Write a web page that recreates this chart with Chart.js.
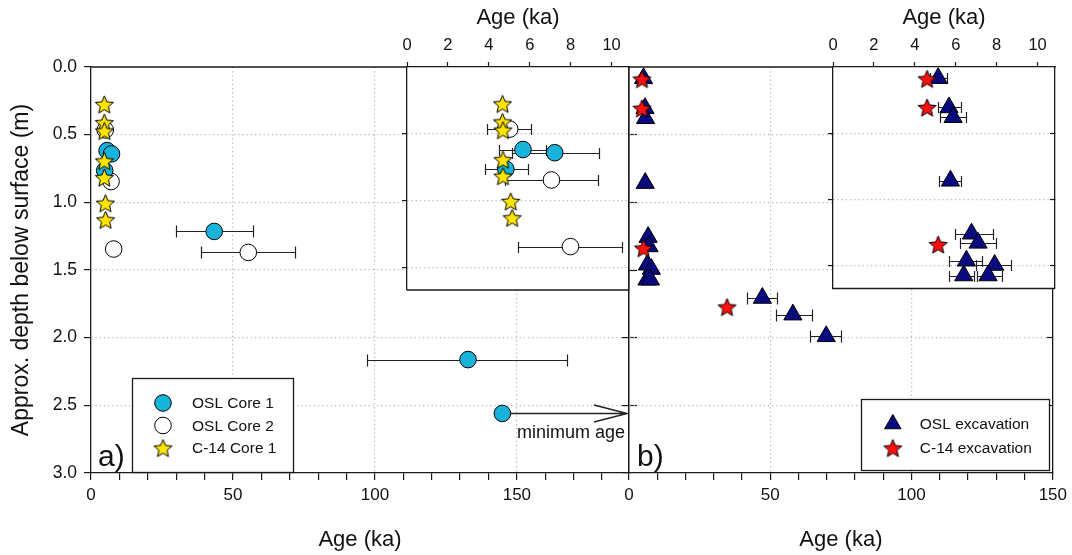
<!DOCTYPE html>
<html><head><meta charset="utf-8">
<script src="https://cdn.jsdelivr.net/npm/chart.js@4.4.1/dist/chart.umd.min.js"></script>
<style>
html,body{margin:0;padding:0;background:#fff;}
body{width:1072px;height:555px;position:relative;overflow:hidden;}
canvas{position:absolute;top:0;}
</style></head>
<body>
<canvas id="mainA" width="640" height="555" style="left:0px"></canvas>
<canvas id="mainB" width="512" height="555" style="left:560px"></canvas>
<canvas id="insetA" width="260" height="300" style="left:380px"></canvas>
<canvas id="insetB" width="266" height="300" style="left:806px"></canvas>
<script>
// ---------------- DATA (age in ka, depth in m) ----------------
// Panel a – cores
const oslCore1Age   = [5.67, 7.22, 4.83, 43.4, 132.8, 144.9];
const oslCore1Depth = [0.618, 0.642, 0.765, 1.215, 2.162, 2.560];
const oslCore1Lo    = [4.50, 5.11, 3.80, 29.8, 97.3, null];
const oslCore1Hi    = [6.81, 9.38, 5.92, 57.1, 167.8, null];
const oslCore1MinimumAge = [false, false, false, false, false, true];

const oslCore2Age   = [5.02, 7.06, 7.99, 55.4];
const oslCore2Depth = [0.465, 0.846, 1.345, 1.370];
const oslCore2Lo    = [3.92, 4.78, 5.43, 38.9];
const oslCore2Hi    = [6.08, 9.35, 10.52, 71.8];

const c14Core1Age   = [4.67, 4.67, 4.69, 4.69, 4.69, 5.07, 5.14];
const c14Core1Depth = [0.276, 0.411, 0.472, 0.694, 0.817, 1.006, 1.129];

// Panel b – excavation
const oslExcAge   = [5.14, 5.67, 5.87, 5.74, 6.77, 7.09, 6.52, 7.90, 6.39, 7.58, 47.2, 58.0, 69.8];
const oslExcDepth = [0.084, 0.305, 0.379, 0.858, 1.257, 1.326, 1.461, 1.493, 1.572, 1.572, 1.707, 1.830, 1.990];
const oslExcLo    = [4.75, 5.14, 5.22, 5.19, 5.95, 6.20, 5.67, 7.01, 5.67, 7.04, 41.9, 51.9, 63.9];
const oslExcHi    = [5.55, 6.24, 6.49, 6.28, 7.82, 7.95, 7.30, 8.72, 6.88, 8.28, 52.5, 64.8, 75.2];

const c14ExcAge   = [4.60, 4.60, 5.14, 34.7];
const c14ExcDepth = [0.089, 0.305, 1.338, 1.773];

// Tick labels
const depthTickLabels = ['0.0', '0.5', '1.0', '1.5', '2.0', '2.5', '3.0'];
const mainAgeTickLabels = [0, 50, 100, 150];
const insetAgeTickLabels = [0, 2, 4, 6, 8, 10];

// ---------------- STYLE ----------------
const FONT = "'Liberation Sans', Arial, Helvetica, sans-serif";
Chart.defaults.font.family = FONT;
Chart.defaults.color = '#111';
const AX = '#1a1a1a';
const GRID = '#b4b4b4';
const CYAN = '#17B3DA';
const YELLOW = '#FFE500';
const NAVY = '#0A0A80';
const RED = '#FF1010';

function makeStar(fill, R) {
  const s = Math.ceil(2 * R + 4);
  const c = document.createElement('canvas');
  c.width = s; c.height = s;
  const g = c.getContext('2d');
  const cx = s / 2, cy = s / 2 + R * 0.1, r = R * 0.45;
  g.beginPath();
  for (let k = 0; k < 10; k++) {
    const a = -Math.PI / 2 + k * Math.PI / 5;
    const rr = k % 2 ? r : R;
    g.lineTo(cx + rr * Math.cos(a), cy + rr * Math.sin(a));
  }
  g.closePath();
  g.fillStyle = fill; g.fill();
  g.lineWidth = 1; g.strokeStyle = '#000'; g.stroke();
  return c;
}
const starYellow = makeStar(YELLOW, 9.5);
const starRed = makeStar(RED, 9.5);

const pts = (xs, ys) => xs.map((x, i) => ({x, y: ys[i]}));

function dsOsl1() { return {label: 'OSL Core 1', data: pts(oslCore1Age, oslCore1Depth), errLo: oslCore1Lo, errHi: oslCore1Hi, minAge: oslCore1MinimumAge,
  pointStyle: 'circle', pointRadius: 8.3, pointBackgroundColor: CYAN, pointBorderColor: '#000', pointBorderWidth: 1, order: 1}; }
function dsOsl2() { return {label: 'OSL Core 2', data: pts(oslCore2Age, oslCore2Depth), errLo: oslCore2Lo, errHi: oslCore2Hi,
  pointStyle: 'circle', pointRadius: 8.3, pointBackgroundColor: '#fff', pointBorderColor: '#000', pointBorderWidth: 1, order: 2}; }
function dsC14Core() { return {label: 'C-14 Core 1', data: pts(c14Core1Age, c14Core1Depth),
  pointStyle: starYellow, pointRadius: 9, order: 0}; }
function dsOslExc() { return {label: 'OSL excavation', data: pts(oslExcAge, oslExcDepth), errLo: oslExcLo, errHi: oslExcHi,
  pointStyle: 'triangle', pointRadius: 10.5, pointBackgroundColor: NAVY, pointBorderColor: '#000', pointBorderWidth: 1, order: 1}; }
function dsC14Exc() { return {label: 'C-14 excavation', data: pts(c14ExcAge, c14ExcDepth),
  pointStyle: starRed, pointRadius: 9, order: 0}; }

// ---------------- PLUGINS ----------------
const bgPlugin = {
  id: 'areaBg',
  beforeDraw(chart, args, opts) {
    if (!opts || !opts.fill) return;
    const {ctx, chartArea: a} = chart;
    ctx.save(); ctx.fillStyle = opts.fill; ctx.fillRect(a.left, a.top, a.width, a.height); ctx.restore();
  }
};

const errorBarPlugin = {
  id: 'errBars',
  beforeDatasetsDraw(chart, args, opts) {
    const {ctx, chartArea: a, scales} = chart;
    const xs = scales.x, ys = scales.y;
    const cap = (opts && opts.cap) || 5;
    const minLen = (opts && opts.minLen) || 0;
    ctx.save();
    ctx.beginPath(); ctx.rect(a.left, a.top, a.width, a.height); ctx.clip();
    ctx.strokeStyle = '#222'; ctx.lineWidth = 1.2;
    chart.data.datasets.forEach(ds => {
      ds.data.forEach((p, i) => {
        const py = Math.round(ys.getPixelForValue(p.y)) + 0.5;
        if (ds.errLo && ds.errLo[i] != null) {
          const x1 = Math.round(xs.getPixelForValue(ds.errLo[i])) + 0.5;
          const x2 = Math.round(xs.getPixelForValue(ds.errHi[i])) + 0.5;
          if (x2 - x1 >= minLen) {
            ctx.beginPath();
            ctx.moveTo(x1, py); ctx.lineTo(x2, py);
            ctx.moveTo(x1, py - cap); ctx.lineTo(x1, py + cap);
            ctx.moveTo(x2, py - cap); ctx.lineTo(x2, py + cap);
            ctx.stroke();
          }
        }
        if (ds.minAge && ds.minAge[i] && opts && opts.minAgeText) {
          const px = xs.getPixelForValue(p.x);
          const tip = xs.getPixelForValue(xs.max) - 2;
          ctx.lineWidth = 1.4;
          ctx.beginPath();
          ctx.moveTo(px, py); ctx.lineTo(tip, py);
          ctx.moveTo(tip - 33, py - 8.5); ctx.lineTo(tip, py); ctx.lineTo(tip - 33, py + 8.5);
          ctx.stroke();
          ctx.fillStyle = '#111';
          ctx.font = '18px ' + FONT;
          ctx.textAlign = 'right'; ctx.textBaseline = 'alphabetic';
          ctx.fillText(opts.minAgeText, tip - 2, py + 24);
          ctx.lineWidth = 1.2;
        }
      });
    });
    ctx.restore();
  }
};

const framePlugin = {
  id: 'frame',
  afterDraw(chart, args, opts) {
    if (!opts) return;
    const {ctx, chartArea: a} = chart;
    ctx.save(); ctx.strokeStyle = AX; ctx.lineWidth = 1.3;
    ctx.beginPath();
    if (opts.top) { ctx.moveTo(a.left, a.top); ctx.lineTo(a.right, a.top); }
    if (opts.bottom) { ctx.moveTo(a.left, a.bottom); ctx.lineTo(a.right, a.bottom); }
    ctx.stroke(); ctx.restore();
  }
};

function drawMarker(ctx, ds, x, y) {
  const st = ds.pointStyle;
  if (st instanceof HTMLCanvasElement) { ctx.drawImage(st, x - st.width / 2, y - st.height / 2); return; }
  ctx.fillStyle = ds.pointBackgroundColor; ctx.strokeStyle = ds.pointBorderColor; ctx.lineWidth = ds.pointBorderWidth;
  ctx.beginPath();
  if (st === 'triangle') {
    const r = 9.5;
    ctx.moveTo(x, y - r); ctx.lineTo(x + r * 0.866, y + r / 2); ctx.lineTo(x - r * 0.866, y + r / 2); ctx.closePath();
  } else {
    ctx.arc(x, y, 8.3, 0, Math.PI * 2);
  }
  ctx.fill(); ctx.stroke();
}

const legendPlugin = {
  id: 'boxLegend',
  afterDatasetsDraw(chart, args, o) {
    if (!o || !o.items) return;
    const {ctx, chartArea: a} = chart;
    const x0 = o.anchor === 'left' ? a.left + o.dx : a.right - o.dx - o.w;
    const y0 = a.bottom - o.dy - o.h;
    ctx.save();
    ctx.fillStyle = '#fff'; ctx.fillRect(x0, y0, o.w, o.h);
    ctx.strokeStyle = AX; ctx.lineWidth = 1.3; ctx.strokeRect(Math.round(x0) + 0.5, Math.round(y0) + 0.5, o.w, o.h);
    o.items.forEach((di, k) => {
      const ds = chart.data.datasets[di];
      const my = y0 + o.firstRow + k * o.rowGap;
      drawMarker(ctx, ds, x0 + o.markerX, my);
      ctx.fillStyle = '#111'; ctx.font = '15.5px ' + FONT;
      ctx.textAlign = 'left'; ctx.textBaseline = 'middle';
      ctx.fillText(ds.label, x0 + o.textX, my + 1);
    });
    ctx.restore();
  }
};

const panelLabelPlugin = {
  id: 'panelLabel',
  afterDraw(chart, args, o) {
    if (!o || !o.text) return;
    const {ctx, chartArea: a} = chart;
    ctx.save(); ctx.fillStyle = '#111'; ctx.font = '30px ' + FONT;
    ctx.textAlign = 'left'; ctx.textBaseline = 'alphabetic';
    ctx.fillText(o.text, a.left + o.dx, a.bottom - o.dy);
    ctx.restore();
  }
};

const PLUGINS = [bgPlugin, errorBarPlugin, framePlugin, legendPlugin, panelLabelPlugin];

// ---------------- SCALE HELPERS ----------------
const dotted = (minV, maxV) => (c) => (c.tick && c.tick.value > minV + 1e-6 && c.tick.value < maxV - 1e-6) ? GRID : 'rgba(0,0,0,0)';

function mainX(max) {
  return {
    type: 'linear', position: 'bottom', min: 0, max: max,
    ticks: {stepSize: 10, includeBounds: false, autoSkip: false, maxRotation: 0,
      callback: v => mainAgeTickLabels.includes(v) ? String(v) : '',
      font: {size: 17}, padding: 5},
    grid: {color: (c) => (c.tick && mainAgeTickLabels.includes(c.tick.value) && c.tick.value > 0 && c.tick.value < max - 1) ? GRID : 'rgba(0,0,0,0)',
      lineWidth: 1.2, tickColor: AX, tickLength: 7, tickWidth: 1.2},
    border: {display: true, color: AX, width: 1.3, dash: [1.2, 3]},
    title: {display: true, text: 'Age (ka)', font: {size: 22}, padding: {top: 0, bottom: 2}},
    afterFit(s) { s.height = 82; }
  };
}
function mainY(showLabels, width) {
  return {
    type: 'linear', position: 'left', min: 0, max: 3, reverse: true,
    ticks: {display: showLabels, stepSize: 0.5, includeBounds: false, font: {size: 17.5}, padding: 7,
      callback: (v, i) => depthTickLabels[Math.round(v * 2)] },
    grid: {color: dotted(0, 3), lineWidth: 1.2, tickColor: AX, tickLength: 7, tickWidth: 1.2},
    border: {display: true, color: AX, width: 1.3, dash: [1.2, 3]},
    title: {display: showLabels, text: 'Approx. depth below surface (m)', font: {size: 23}, padding: {top: 8, bottom: 0}},
    afterFit(s) { s.width = width; }
  };
}
function rightY(max, tickLen) {
  return {
    type: 'linear', position: 'right', min: 0, max: max, reverse: true,
    ticks: {display: false, stepSize: 0.5, includeBounds: false},
    grid: {drawOnChartArea: false, drawTicks: tickLen !== 0, tickLength: tickLen,
      tickColor: (c) => (c.tick && c.tick.value > 0.01 && c.tick.value < max - 0.01) ? AX : 'rgba(0,0,0,0)', tickWidth: 1.2},
    border: {display: true, color: AX, width: 1.3},
    afterFit(s) { s.width = 0; }
  };
}
function insetX() {
  return {
    type: 'linear', position: 'top', min: 0, max: 10.85,
    ticks: {stepSize: 2, includeBounds: false, autoSkip: false, maxRotation: 0,
      callback: v => insetAgeTickLabels.includes(v) ? String(v) : '', font: {size: 16.5}, padding: 7},
    grid: {drawOnChartArea: false, tickLength: 5, tickColor: AX, tickWidth: 1.2},
    border: {display: true, color: AX, width: 1.3},
    title: {display: true, text: 'Age (ka)', font: {size: 22}, padding: {top: 5, bottom: 0}},
    afterFit(s) { s.height = 67; }
  };
}
function insetY(max) {
  return {
    type: 'linear', position: 'left', min: 0, max: max, reverse: true,
    ticks: {display: false, stepSize: 0.5, includeBounds: false},
    grid: {color: dotted(0, max), lineWidth: 1.2,
      tickColor: (c) => (c.tick && c.tick.value > 0.01) ? AX : 'rgba(0,0,0,0)', tickLength: 5, tickWidth: 1.2},
    border: {display: true, color: AX, width: 1.3, dash: [1.2, 3]},
    afterFit(s) { s.width = 27; }
  };
}

const base = {responsive: false, animation: false, devicePixelRatio: 1, events: []};
const INSET_MAX = 1.67;

// ---------------- CHARTS ----------------
new Chart(document.getElementById('mainA'), {
  type: 'scatter',
  data: {datasets: [dsOsl1(), dsOsl2(), dsC14Core()]},
  options: Object.assign({}, base, {
    layout: {padding: {top: 67, right: 11, left: 0, bottom: 0}},
    scales: {x: mainX(189.5), y: mainY(true, 91), yr: rightY(3, 8)},
    plugins: {legend: {display: false}, tooltip: {enabled: false},
      errBars: {cap: 6, minLen: 18, minAgeText: 'minimum age'},
      frame: {top: true},
      boxLegend: {items: [0, 1, 2], anchor: 'left', dx: 41, dy: 1, w: 161, h: 94, firstRow: 25, rowGap: 22.5, markerX: 31, textX: 60},
      panelLabel: {text: 'a)', dx: 7, dy: 7}}
  }),
  plugins: PLUGINS
});

new Chart(document.getElementById('mainB'), {
  type: 'scatter',
  data: {datasets: [dsOslExc(), dsC14Exc()]},
  options: Object.assign({}, base, {
    layout: {padding: {top: 67, right: 17, left: 0, bottom: 0}},
    scales: {x: mainX(150), y: mainY(false, 69), yr: rightY(3, -6)},
    plugins: {legend: {display: false}, tooltip: {enabled: false},
      errBars: {cap: 6, minLen: 18},
      frame: {top: true},
      boxLegend: {items: [0, 1], anchor: 'right', dx: 4, dy: 3, w: 188, h: 71, firstRow: 25, rowGap: 24, markerX: 32, textX: 59},
      panelLabel: {text: 'b)', dx: 8, dy: 7}}
  }),
  plugins: PLUGINS
});

new Chart(document.getElementById('insetA'), {
  type: 'scatter',
  data: {datasets: [dsOsl1(), dsOsl2(), dsC14Core()]},
  options: Object.assign({}, base, {
    layout: {padding: {top: 0, right: 11, left: 0, bottom: 7}},
    scales: {x: insetX(), y: insetY(INSET_MAX), yr: rightY(INSET_MAX, 0)},
    plugins: {legend: {display: false}, tooltip: {enabled: false},
      areaBg: {fill: '#ffffff'}, errBars: {cap: 5.5}, frame: {bottom: true}}
  }),
  plugins: PLUGINS
});

new Chart(document.getElementById('insetB'), {
  type: 'scatter',
  data: {datasets: [dsOslExc(), dsC14Exc()]},
  options: Object.assign({}, base, {
    layout: {padding: {top: 0, right: 17, left: 0, bottom: 7}},
    scales: {x: insetX(), y: insetY(INSET_MAX), yr: rightY(INSET_MAX, -5)},
    plugins: {legend: {display: false}, tooltip: {enabled: false},
      areaBg: {fill: '#ffffff'}, errBars: {cap: 5.5}, frame: {bottom: true}}
  }),
  plugins: PLUGINS
});
</script>
</body></html>
